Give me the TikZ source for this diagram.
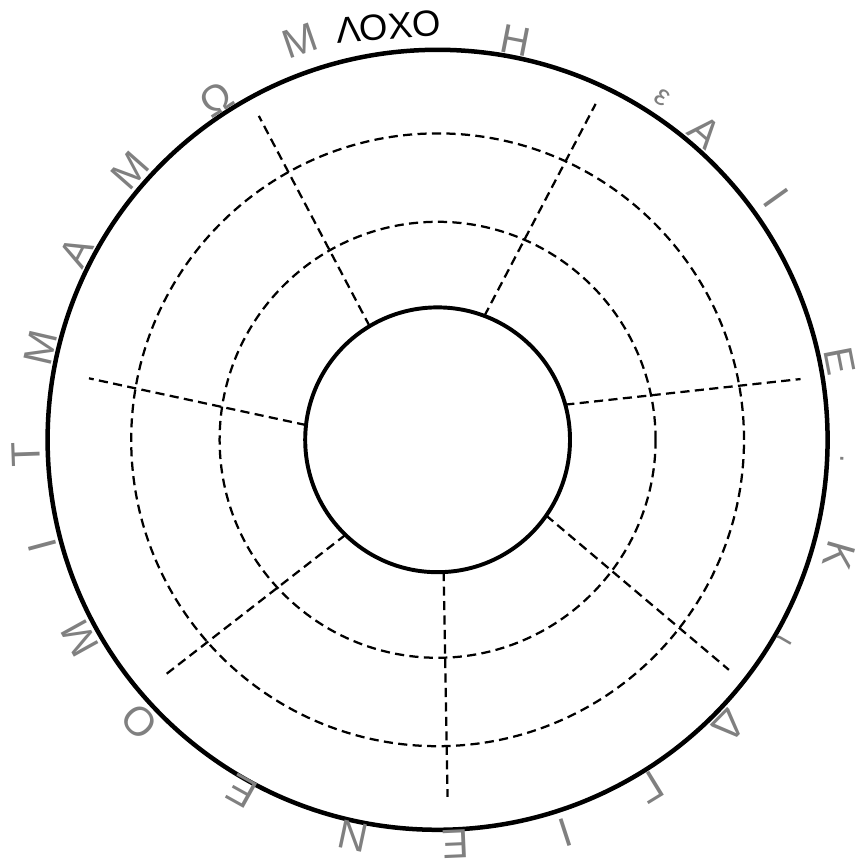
\documentclass[tikz,border=0pt]{standalone}
\usepackage{fontspec}
\setmainfont{Liberation Sans}
\usetikzlibrary{calc}
\tikzset{
  rim/.style={line width=3.2pt,black},
  hub/.style={line width=2.8pt,black},
  ring/.style={line width=1.6pt,dash pattern=on 6.5pt off 3.8pt},
  spoke/.style={ring},
  glyph/.style={text=black!50,inner sep=0pt,font=\fontsize{29}{29}\selectfont},
  smallglyph/.style={glyph,font=\fontsize{21}{21}\selectfont},
  title/.style={inner sep=0pt,font=\fontsize{26}{26}\selectfont},
}
\begin{document}
\begin{tikzpicture}
  \useasboundingbox (0,0) rectangle (21.525,21.675);
  \coordinate (c) at (10.94,10.68);
  % rings
  \draw[rim] (c) circle (9.75);
  \draw[hub] (c) circle (3.31);
  \draw[ring] (c) circle (5.45);
  \draw[ring] (c) circle (7.66);
  % spokes
  \foreach \a/\b/\r in {120.9/118.9/9.25, 69.3/64.8/9.28, 15.4/9.5/9.2,
                        -34.9/-38.3/9.28, -87.4/-88.4/8.93, 225.9/220.8/8.98,
                        173.6/170/8.85}
    \draw[spoke] ($(c)+(\a:3.31)$) -- ($(c)+(\b:\r)$);
  % letters round the rim
  \foreach \ang/\rad/\ch [count=\i] in {79/10.18/Η, 49/10.2/Α, 35.5/10.4/Ι,
        11/10.25/Ε, 344/10.45/Κ, 315.5/10.2/Δ, 301.5/10.18/Γ, 288/10.32/Ι,
        272.5/10.12/Ε, 258/10.12/Ν, 240.9/10.05/Ε, 223.4/10.25/Ο,
        209/10.22/Μ, 195/10.22/Ι, 182/10.3/Τ, 167/10.18/Μ, 152.5/10.18/Α,
        138.7/10.22/Μ, 123/10.15/Ω, 109/10.55/Μ}
    \node[glyph,rotate=\ang-90] (g\i) at ($(c)+(\ang:\rad)$) {\ch};
  \foreach \ang/\rad/\ch [count=\i] in {56.7/10.25/ε, 330/10.02/ι, -2.7/10.04/·}
    \node[smallglyph,rotate=\ang-90] (s\i) at ($(c)+(\ang:\rad)$) {\ch};
  % name on top
  \node[title,rotate=5] (name) at ($(c)+(96.8:10.4)$) {ΛΟΧΟ};
\end{tikzpicture}
\end{document}
